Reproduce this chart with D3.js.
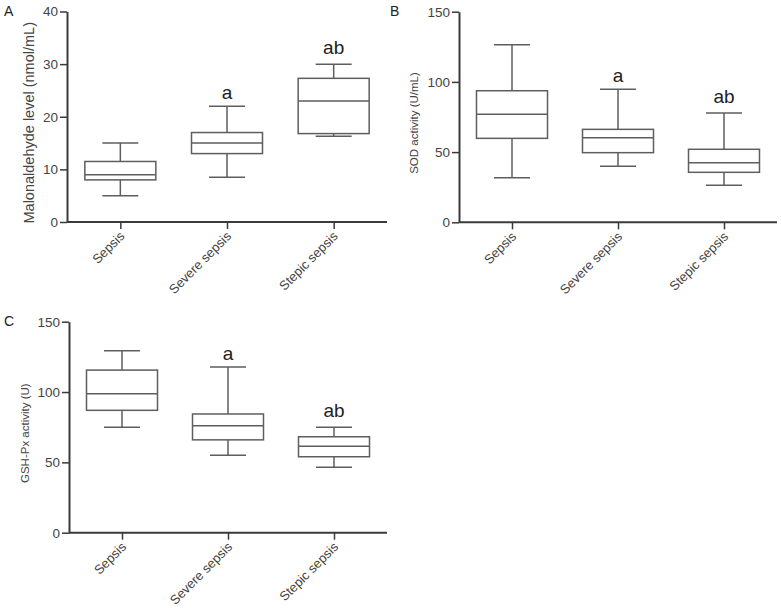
<!DOCTYPE html>
<html>
<head>
<meta charset="utf-8">
<script src="https://cdn.jsdelivr.net/npm/d3@7"></script>
<style>
  body { margin: 0; background: #fff; }
  svg { display: block; }
  text { font-family: "Liberation Sans", Arial, sans-serif; }
</style>
</head>
<body>
<svg id="chart" width="781" height="612"></svg>
<script>
const categories = ["Sepsis", "Severe sepsis", "Stepic sepsis"];

// [min, Q1, median, Q3, max]
const mdaBoxes = [
  [5, 8, 9, 11.5, 15],
  [8.5, 13, 15, 17, 22],
  [16.3, 16.8, 23, 27.3, 30]
];
const sodBoxes = [
  [31.8, 59.8, 76.9, 93.7, 126.5],
  [40, 49.6, 60.3, 66.2, 94.7],
  [26.3, 35.6, 42.5, 52, 77.8]
];
const gshBoxes = [
  [75, 87, 98.8, 115.6, 129.4],
  [55, 66, 76, 84.4, 117.8],
  [46.5, 54, 61.4, 68.2, 75]
];

const mdaTicks = [0, 10, 20, 30, 40];
const sodTicks = [0, 50, 100, 150];
const gshTicks = [0, 50, 100, 150];

const mdaLetters = ["", "a", "ab"];
const sodLetters = ["", "a", "ab"];
const gshLetters = ["", "a", "ab"];

const panels = [
  { letter: "A", boxes: mdaBoxes, ticks: mdaTicks, max: 40, letters: mdaLetters,
    title: "Malonaldehyde level (nmol/mL)", titleSize: 14.5,
    left: 67, right: 387, top: 11.5, bottom: 222, letterX: 4, letterY: 16, titleX: 34 },
  { letter: "B", boxes: sodBoxes, ticks: sodTicks, max: 150, letters: sodLetters,
    title: "SOD activity (U/mL)", titleSize: 11.5,
    left: 459, right: 777, top: 11.7, bottom: 222.3, letterX: 390, letterY: 16, titleX: 418 },
  { letter: "C", boxes: gshBoxes, ticks: gshTicks, max: 150, letters: gshLetters,
    title: "GSH-Px activity (U)", titleSize: 11.5,
    left: 69, right: 387, top: 321.7, bottom: 532.7, letterX: 4, letterY: 326, titleX: 29 }
];

const svg = d3.select("#chart");
const lineColor = "#5e5e5e";
const axisColor = "#3a3a3a";
const textColor = "#444";

panels.forEach(p => {
  const g = svg.append("g");
  const x = d3.scalePoint().domain(categories).range([p.left, p.right]).padding(0.5);
  const y = d3.scaleLinear().domain([0, p.max]).range([p.bottom, p.top]);

  // y axis
  const yAxis = g.append("g")
    .attr("transform", `translate(${p.left},0)`)
    .call(d3.axisLeft(y).tickValues(p.ticks).tickSize(7).tickPadding(2).tickSizeOuter(0));
  yAxis.select(".domain").attr("stroke", axisColor).attr("stroke-width", 2);
  yAxis.selectAll(".tick line").attr("stroke", axisColor).attr("stroke-width", 1.5);
  yAxis.selectAll(".tick text").attr("fill", textColor).style("font-size", "13.5px")
    .style("font-family", "'Liberation Sans', Arial, sans-serif");

  // x axis
  const xAxis = g.append("g")
    .attr("transform", `translate(0,${p.bottom})`)
    .call(d3.axisBottom(x).tickSize(7).tickSizeOuter(0).tickFormat(""));
  xAxis.select(".domain").attr("stroke", axisColor).attr("stroke-width", 2)
    .attr("d", `M${p.left},0H${p.right}`);
  xAxis.selectAll(".tick line").attr("stroke", axisColor).attr("stroke-width", 1.5);

  // rotated category labels
  g.selectAll(".catlabel").data(categories).enter().append("text")
    .attr("class", "catlabel")
    .attr("transform", d => `translate(${x(d) + 5},${p.bottom + 15}) rotate(-45)`)
    .attr("text-anchor", "end")
    .attr("fill", textColor)
    .style("font-size", "13px")
    .text(d => d);

  // boxes
  const boxW = 71, capW = 36;
  const bg = g.selectAll(".box").data(p.boxes).enter().append("g").attr("class", "box");
  bg.each(function(d, i) {
    const cx = x(categories[i]);
    const s = d3.select(this);
    const st = { stroke: lineColor, "stroke-width": 1.5, fill: "none" };
    const ln = (x1, y1, x2, y2) => {
      const l = s.append("line").attr("x1", x1).attr("y1", y1).attr("x2", x2).attr("y2", y2);
      Object.entries(st).forEach(([k, v]) => l.attr(k, v));
    };
    // whiskers
    ln(cx, y(d[4]), cx, y(d[3]));
    ln(cx, y(d[1]), cx, y(d[0]));
    ln(cx - capW / 2, y(d[4]), cx + capW / 2, y(d[4]));
    ln(cx - capW / 2, y(d[0]), cx + capW / 2, y(d[0]));
    // box
    s.append("rect")
      .attr("x", cx - boxW / 2).attr("y", y(d[3]))
      .attr("width", boxW).attr("height", y(d[1]) - y(d[3]))
      .attr("fill", "none").attr("stroke", lineColor).attr("stroke-width", 1.5);
    // median
    ln(cx - boxW / 2, y(d[2]), cx + boxW / 2, y(d[2]));
    // letters
    if (p.letters[i]) {
      s.append("text")
        .attr("x", cx).attr("y", y(d[4]) - (p.letters[i] === "ab" ? 10 : 7))
        .attr("text-anchor", "middle")
        .attr("fill", "#222")
        .style("font-size", "19px")
        .text(p.letters[i]);
    }
  });

  // y title
  g.append("text")
    .attr("transform", `translate(${p.titleX},${(p.top + p.bottom) / 2 + 6}) rotate(-90)`)
    .attr("text-anchor", "middle")
    .attr("fill", textColor)
    .style("font-size", p.titleSize + "px")
    .text(p.title);

  // panel letter
  g.append("text")
    .attr("x", p.letterX).attr("y", p.letterY)
    .attr("fill", "#222")
    .style("font-size", "14px")
    .text(p.letter);
});
</script>
</body>
</html>
